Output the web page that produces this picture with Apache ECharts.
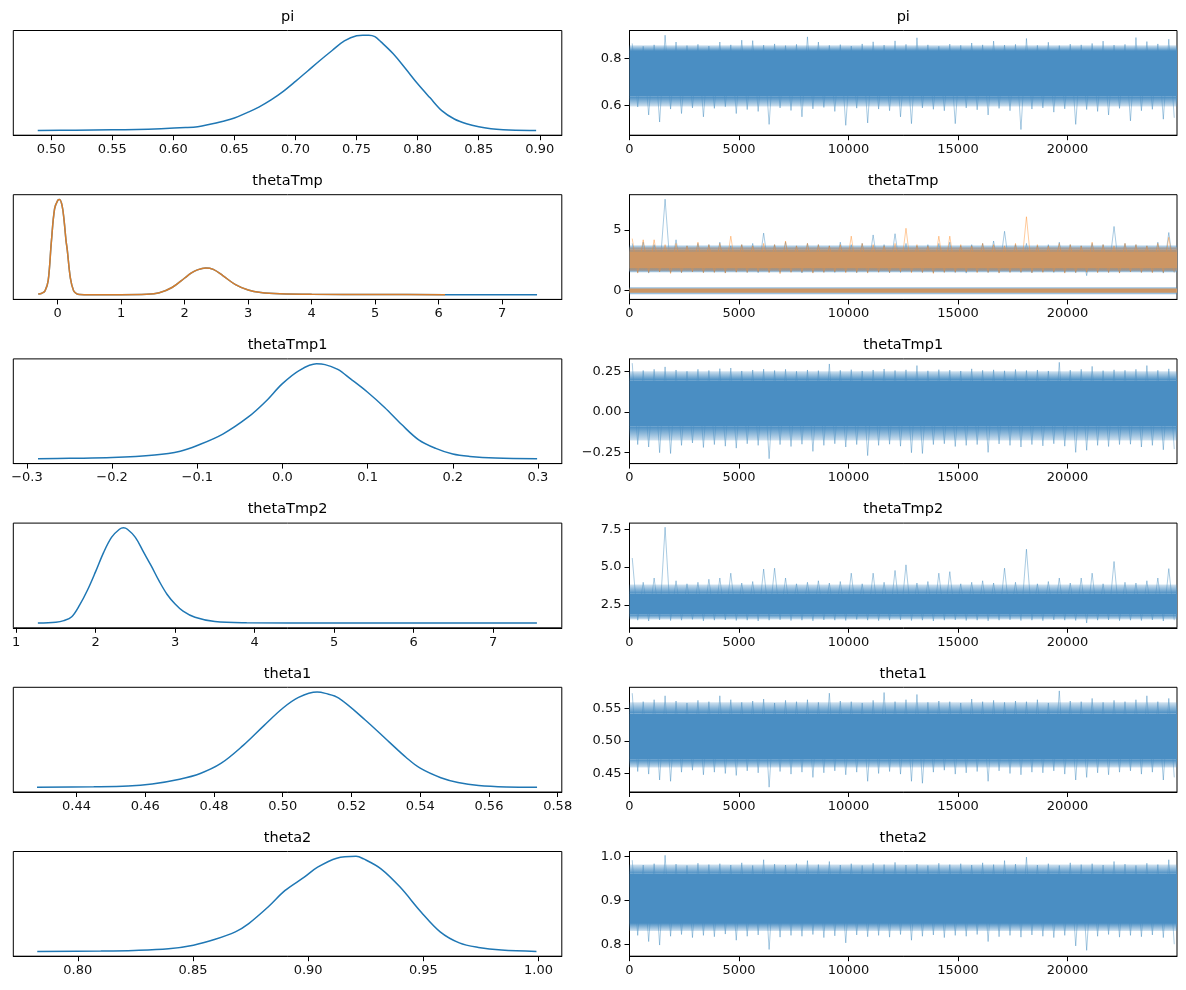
<!DOCTYPE html>
<html>
<head>
<meta charset="utf-8">
<title>trace plot</title>
<script src="https://cdn.jsdelivr.net/npm/echarts@6/dist/echarts.min.js"></script>
<style>
html, body { margin: 0; padding: 0; background: #fff; }
#main { width: 1186px; height: 990px; }
</style>
</head>
<body>
<div id="main"></div>
<script>
// ---------------- data ----------------
var nDraws = 25000;
var varNames = ['pi', 'thetaTmp', 'thetaTmp1', 'thetaTmp2', 'theta1', 'theta2'];

// KDE curves, heights relative to each panel's peak
var piKdeX = [0.489, 0.52, 0.55, 0.57, 0.59, 0.61, 0.62, 0.63, 0.64, 0.65, 0.66, 0.67, 0.68, 0.69, 0.70, 0.71, 0.72, 0.73, 0.74, 0.75, 0.755, 0.76, 0.765, 0.77, 0.78, 0.79, 0.80, 0.81, 0.82, 0.83, 0.84, 0.85, 0.86, 0.87, 0.88, 0.897];
var piKdeY = [0, 0.003, 0.007, 0.01, 0.018, 0.03, 0.04, 0.065, 0.095, 0.13, 0.185, 0.245, 0.32, 0.41, 0.515, 0.625, 0.735, 0.84, 0.94, 0.995, 1.0, 1.0, 0.985, 0.93, 0.805, 0.65, 0.49, 0.345, 0.205, 0.12, 0.07, 0.038, 0.018, 0.007, 0.002, 0];

var thetaTmpKdeX = [-0.307, -0.25, -0.2, -0.15, -0.1, -0.05, 0, 0.03, 0.07, 0.1, 0.13, 0.15, 0.2, 0.25, 0.3, 0.35, 0.5, 1.0, 1.4, 1.6, 1.8, 2.0, 2.1, 2.2, 2.33, 2.45, 2.6, 2.8, 3.0, 3.2, 3.5, 4.0, 5.0, 6.1, 7.0, 7.55];
var thetaTmpKdeBlue = [0.007, 0.015, 0.04, 0.15, 0.56, 0.9, 0.99, 1.0, 0.93, 0.78, 0.57, 0.47, 0.17, 0.04, 0.008, 0.002, 0, 0, 0.004, 0.02, 0.075, 0.175, 0.225, 0.26, 0.28, 0.265, 0.2, 0.105, 0.048, 0.022, 0.009, 0.003, 0.001, 0, 0, 0];
var thetaTmpKdeOrange = [0.007, 0.015, 0.04, 0.15, 0.56, 0.9, 0.99, 1.0, 0.93, 0.78, 0.57, 0.47, 0.17, 0.04, 0.008, 0.002, 0, 0, 0.004, 0.02, 0.075, 0.175, 0.225, 0.26, 0.28, 0.265, 0.2, 0.105, 0.048, 0.022, 0.009, 0.003, 0.001, 0, null, null];

var thetaTmp1KdeX = [-0.287, -0.25, -0.2, -0.15, -0.12, -0.1, -0.07, -0.04, -0.02, 0, 0.02, 0.04, 0.05, 0.065, 0.08, 0.1, 0.12, 0.14, 0.16, 0.18, 0.2, 0.22, 0.25, 0.299];
var thetaTmp1KdeY = [0, 0.005, 0.013, 0.04, 0.08, 0.14, 0.26, 0.44, 0.6, 0.79, 0.93, 0.998, 0.99, 0.94, 0.84, 0.70, 0.54, 0.36, 0.2, 0.11, 0.05, 0.025, 0.008, 0];

var thetaTmp2KdeX = [1.274, 1.5, 1.6, 1.7, 1.8, 1.9, 2.0, 2.1, 2.2, 2.3, 2.35, 2.4, 2.5, 2.6, 2.7, 2.8, 2.9, 3.0, 3.1, 3.25, 3.5, 3.9, 5, 6, 7.55];
var thetaTmp2KdeY = [0, 0.008, 0.025, 0.066, 0.19, 0.35, 0.54, 0.74, 0.9, 0.985, 1.0, 0.985, 0.9, 0.75, 0.6, 0.44, 0.3, 0.2, 0.125, 0.06, 0.015, 0.003, 0, 0, 0];

var theta1KdeX = [0.4285, 0.445, 0.455, 0.462, 0.47, 0.476, 0.482, 0.4885, 0.4946, 0.5, 0.5046, 0.51, 0.5124, 0.5163, 0.524, 0.531, 0.536, 0.540, 0.546, 0.551, 0.557, 0.565, 0.574];
var theta1KdeY = [0, 0.004, 0.012, 0.035, 0.085, 0.145, 0.25, 0.44, 0.65, 0.83, 0.944, 1.0, 0.986, 0.937, 0.707, 0.474, 0.31, 0.2, 0.1, 0.05, 0.018, 0.003, 0];

var theta2KdeX = [0.7824, 0.81, 0.8244, 0.8394, 0.8502, 0.8593, 0.8684, 0.8742, 0.8826, 0.89, 0.8983, 0.9041, 0.9124, 0.9208, 0.9241, 0.9316, 0.9399, 0.949, 0.9573, 0.9656, 0.9739, 0.9839, 0.9991];
var theta2KdeY = [0, 0.004, 0.01, 0.028, 0.066, 0.125, 0.206, 0.293, 0.467, 0.641, 0.78, 0.885, 0.98, 1.0, 0.972, 0.868, 0.676, 0.415, 0.206, 0.09, 0.042, 0.014, 0];

// traces: highest / lowest draw in each block of 500 draws
var piTraceHi = [0.864, 0.852, 0.858, 0.899, 0.870, 0.855, 0.860, 0.853, 0.870, 0.858, 0.878, 0.876, 0.857, 0.862, 0.855, 0.860, 0.892, 0.870, 0.856, 0.859, 0.853, 0.862, 0.871, 0.857, 0.875, 0.860, 0.888, 0.858, 0.852, 0.861, 0.856, 0.866, 0.858, 0.874, 0.857, 0.860, 0.885, 0.856, 0.869, 0.855, 0.861, 0.858, 0.864, 0.874, 0.857, 0.860, 0.889, 0.872, 0.862, 0.882];
var piTraceLo = [0.594, 0.560, 0.530, 0.585, 0.566, 0.590, 0.552, 0.588, 0.595, 0.566, 0.583, 0.575, 0.520, 0.590, 0.579, 0.552, 0.586, 0.592, 0.575, 0.516, 0.589, 0.526, 0.585, 0.578, 0.552, 0.523, 0.590, 0.584, 0.578, 0.523, 0.590, 0.582, 0.560, 0.588, 0.578, 0.498, 0.585, 0.590, 0.572, 0.586, 0.520, 0.583, 0.575, 0.560, 0.588, 0.535, 0.578, 0.584, 0.542, 0.548];

var thetaTmpBlueHi = [3.9, 4.0, 3.8, 7.55, 4.2, 3.7, 3.9, 3.8, 4.0, 3.7, 3.8, 3.9, 4.75, 3.8, 4.0, 3.7, 3.9, 3.8, 3.7, 4.0, 3.8, 3.9, 4.6, 3.8, 4.7, 3.9, 3.7, 3.8, 3.9, 4.0, 3.7, 3.8, 3.9, 4.1, 4.9, 3.8, 3.9, 3.7, 3.8, 4.0, 3.8, 3.7, 3.9, 3.8, 5.3, 3.9, 3.8, 3.7, 4.0, 4.8];
var thetaTmpBlueLo = [1.5, 1.45, 1.55, 1.5, 1.48, 1.55, 1.5, 1.52, 1.47, 1.55, 1.5, 1.48, 1.53, 1.5, 1.55, 1.46, 1.5, 1.52, 1.5, 1.55, 1.48, 1.5, 1.53, 1.47, 1.5, 1.55, 1.5, 1.48, 1.52, 1.5, 1.45, 1.55, 1.5, 1.48, 1.52, 1.5, 1.47, 1.55, 1.5, 1.5, 1.48, 1.24, 1.52, 1.5, 1.47, 1.55, 1.5, 1.52, 1.45, 1.5];
var thetaTmpOrangeHi = [4.3, 4.2, 4.2, 3.8, 3.9, 3.7, 4.0, 3.8, 3.9, 4.5, 3.8, 3.7, 3.9, 3.8, 4.1, 3.7, 3.9, 3.8, 3.7, 3.8, 4.5, 3.9, 3.8, 3.7, 3.9, 5.15, 3.8, 3.7, 4.5, 4.5, 3.8, 3.7, 3.9, 3.8, 3.7, 3.9, 6.1, 3.8, 3.7, 3.9, 3.8, 3.7, 4.0, 3.8, 3.7, 3.9, 3.8, 3.7, 3.9, 4.4];
var thetaTmpOrangeLo = [1.45, 1.5, 1.55, 1.42, 1.5, 1.55, 1.48, 1.5, 1.45, 1.52, 1.5, 1.55, 1.48, 1.4, 1.5, 1.52, 1.45, 1.5, 1.55, 1.48, 1.5, 1.45, 1.52, 1.5, 1.55, 1.48, 1.5, 1.42, 1.5, 1.52, 1.55, 1.48, 1.5, 1.45, 1.5, 1.52, 1.48, 1.5, 1.55, 1.45, 1.5, 1.52, 1.48, 1.5, 1.45, 1.55, 1.5, 1.48, 1.5, 1.52];

var thetaTmp1TraceHi = [0.300, 0.255, 0.262, 0.277, 0.258, 0.250, 0.262, 0.255, 0.266, 0.270, 0.252, 0.258, 0.263, 0.255, 0.262, 0.250, 0.258, 0.254, 0.295, 0.256, 0.260, 0.252, 0.258, 0.264, 0.255, 0.259, 0.285, 0.253, 0.260, 0.257, 0.252, 0.265, 0.256, 0.259, 0.253, 0.261, 0.255, 0.258, 0.252, 0.305, 0.257, 0.262, 0.280, 0.254, 0.259, 0.256, 0.262, 0.285, 0.256, 0.265];
var thetaTmp1TraceLo = [-0.200, -0.215, -0.250, -0.255, -0.205, -0.190, -0.218, -0.200, -0.210, -0.222, -0.195, -0.205, -0.287, -0.200, -0.212, -0.198, -0.242, -0.205, -0.195, -0.215, -0.200, -0.268, -0.205, -0.198, -0.210, -0.250, -0.255, -0.200, -0.195, -0.212, -0.205, -0.200, -0.248, -0.196, -0.205, -0.215, -0.200, -0.208, -0.195, -0.210, -0.248, -0.235, -0.205, -0.212, -0.200, -0.198, -0.215, -0.205, -0.232, -0.228];

var thetaTmp2TraceHi = [5.6, 4.0, 4.28, 7.63, 4.1, 3.9, 4.0, 4.2, 4.28, 4.6, 3.95, 4.05, 4.87, 4.93, 4.28, 3.9, 4.0, 4.1, 3.95, 4.05, 4.6, 3.9, 4.6, 4.0, 4.78, 5.15, 3.95, 4.05, 4.6, 4.7, 3.9, 4.0, 4.1, 3.95, 4.93, 4.0, 6.18, 3.9, 4.05, 4.28, 3.95, 4.28, 4.6, 3.9, 5.37, 4.0, 3.95, 4.1, 4.28, 4.9];
var thetaTmp2TraceLo = [1.5, 1.45, 1.52, 1.48, 1.5, 1.55, 1.46, 1.5, 1.52, 1.48, 1.5, 1.45, 1.5, 1.53, 1.48, 1.5, 1.46, 1.52, 1.5, 1.48, 1.55, 1.5, 1.47, 1.5, 1.52, 1.48, 1.5, 1.45, 1.5, 1.52, 1.48, 1.5, 1.46, 1.5, 1.53, 1.48, 1.5, 1.47, 1.52, 1.5, 1.48, 1.32, 1.5, 1.52, 1.47, 1.5, 1.48, 1.52, 1.45, 1.5];

var theta1TraceHi = [0.573, 0.560, 0.563, 0.569, 0.561, 0.558, 0.562, 0.560, 0.569, 0.563, 0.559, 0.561, 0.564, 0.558, 0.562, 0.560, 0.563, 0.559, 0.573, 0.561, 0.560, 0.558, 0.562, 0.574, 0.560, 0.563, 0.571, 0.559, 0.561, 0.560, 0.558, 0.564, 0.560, 0.562, 0.559, 0.561, 0.560, 0.563, 0.558, 0.5765, 0.561, 0.560, 0.565, 0.559, 0.562, 0.560, 0.563, 0.569, 0.560, 0.565];
var theta1TraceLo = [0.453, 0.449, 0.440, 0.438, 0.452, 0.455, 0.448, 0.452, 0.450, 0.447, 0.454, 0.451, 0.429, 0.453, 0.449, 0.452, 0.444, 0.451, 0.454, 0.448, 0.452, 0.438, 0.450, 0.453, 0.449, 0.438, 0.435, 0.452, 0.455, 0.449, 0.451, 0.453, 0.438, 0.454, 0.450, 0.448, 0.452, 0.451, 0.454, 0.449, 0.440, 0.444, 0.451, 0.448, 0.452, 0.454, 0.449, 0.452, 0.440, 0.444];

var theta2TraceHi = [0.991, 0.980, 0.983, 1.002, 0.982, 0.979, 0.984, 0.981, 0.983, 0.980, 0.985, 0.979, 0.992, 0.982, 0.980, 0.983, 0.990, 0.981, 0.988, 0.980, 0.983, 0.979, 0.984, 0.981, 0.986, 0.980, 0.982, 0.979, 0.984, 0.981, 0.983, 0.980, 0.985, 0.981, 0.990, 0.982, 0.998, 0.980, 0.983, 0.979, 0.985, 0.981, 0.983, 0.980, 0.988, 0.982, 0.979, 0.984, 0.981, 0.992];
var theta2TraceLo = [0.820, 0.806, 0.798, 0.818, 0.822, 0.815, 0.820, 0.817, 0.823, 0.809, 0.818, 0.821, 0.788, 0.816, 0.820, 0.818, 0.822, 0.815, 0.819, 0.803, 0.821, 0.817, 0.820, 0.816, 0.822, 0.809, 0.818, 0.821, 0.815, 0.820, 0.818, 0.822, 0.806, 0.817, 0.820, 0.816, 0.821, 0.818, 0.815, 0.820, 0.796, 0.786, 0.818, 0.822, 0.816, 0.820, 0.817, 0.821, 0.815, 0.800];

// where most of the draws sit: [low, high] of the dense core and of its lighter fringe
var piCore = [0.637, 0.832], piFringe = [0.596, 0.856];
var thetaTmpUpperCore = [1.85, 3.25], thetaTmpUpperFringe = [1.6, 3.6], thetaTmpUpperBlueFringe = [1.5, 3.75];
var thetaTmpLowerCore = [-0.18, 0.18], thetaTmpLowerFringe = [-0.3, 0.28];
var thetaTmp1Core = [-0.09, 0.195], thetaTmp1Fringe = [-0.175, 0.25];
var thetaTmp2Core = [1.86, 3.25], thetaTmp2Fringe = [1.55, 3.85];
var theta1Core = [0.471, 0.542], theta1Fringe = [0.459, 0.559];
var theta2Core = [0.848, 0.960], theta2Fringe = [0.830, 0.981];

// axis limits and ticks
var kdeLimits = [[0.469, 0.918], [-0.70, 7.94], [-0.316, 0.328], [0.965, 7.863], [0.4216, 0.5812], [0.772, 1.0101]];
var traceLimits = [[0.474, 0.919], [-0.72, 7.92], [-0.317, 0.326], [1.0, 7.9], [0.4216, 0.582], [0.7727, 1.0107]];
var kdeTicks = [
    [0.50, 0.55, 0.60, 0.65, 0.70, 0.75, 0.80, 0.85, 0.90],
    [0, 1, 2, 3, 4, 5, 6, 7],
    [-0.3, -0.2, -0.1, 0.0, 0.1, 0.2, 0.3],
    [1, 2, 3, 4, 5, 6, 7],
    [0.44, 0.46, 0.48, 0.50, 0.52, 0.54, 0.56, 0.58],
    [0.80, 0.85, 0.90, 0.95, 1.00]
];
var kdeDecimals = [2, 0, 1, 0, 2, 2];
var traceXTicks = [0, 5000, 10000, 15000, 20000];
var traceYTicks = [[0.6, 0.8], [0, 5], [-0.25, 0, 0.25], [2.5, 5.0, 7.5], [0.45, 0.50, 0.55], [0.8, 0.9, 1.0]];
var traceDecimals = [1, 0, 2, 1, 2, 1];

// ---------------- layout / style ----------------
var C0 = '#1f77b4', C1 = 'rgba(255,127,14,0.82)';
var blueCore = '#4a8ec3', blueSpike = 'rgba(31,119,180,0.38)';
var blueFade = ['rgba(74,142,195,1)', 'rgba(74,142,195,0.25)'];
var orangeCore = '#cc9664', orangeSpike = 'rgba(255,127,14,0.4)';
var orangeFade = ['rgba(226,150,85,0.75)', 'rgba(255,160,90,0.2)'];
var leftX = 13.3, leftW = 548.5, rightX = 629.5, rightW = 547.5;
var rowTop0 = 30.5, rowStep = 164.2, rowH = 104.7;
var FONT = 'DejaVu Sans';

function fmt(d) {
    return function (v) { return Number(v).toFixed(d).replace('-', '\u2212'); };
}

function pairs(xs, ys) {
    var out = [];
    for (var i = 0; i < xs.length; i++) {
        if (ys[i] != null) out.push([xs[i], ys[i]]);
    }
    return out;
}

// one up-and-down stroke per block of draws
function zigzag(hi, lo) {
    var w = nDraws / hi.length;
    var out = [];
    for (var i = 0; i < hi.length; i++) {
        out.push([i * w + w * 0.25, hi[i]]);
        out.push([i * w + w * 0.75, lo[i]]);
    }
    return out;
}

// horizontal band across the whole plot; fade: 0 solid, 1 fades upward, -1 fades downward
function bandRenderer(fill, fade) {
    return function (params, api) {
        var cs = params.coordSys;
        var yTop = api.coord([0, api.value(1)])[1];
        var yBot = api.coord([0, api.value(0)])[1];
        var style = fill;
        if (fade) {
            var inner = fill[0], outer = fill[1];
            style = new echarts.graphic.LinearGradient(0, 0, 0, 1, [
                { offset: 0, color: fade > 0 ? outer : inner },
                { offset: 1, color: fade > 0 ? inner : outer }
            ]);
        }
        return {
            type: 'rect',
            shape: { x: cs.x, y: yTop, width: cs.width, height: yBot - yTop },
            style: { fill: style }
        };
    };
}

var grids = [], xAxes = [], yAxes = [], titles = [], series = [];

function addTitle(text, cx, gridTop) {
    titles.push({
        text: text, left: cx, top: gridTop - 21, textAlign: 'center', padding: 0,
        textStyle: { fontSize: 14.5, fontWeight: 'normal', color: '#000', fontFamily: FONT }
    });
}

function tickAxis(gi, lim, ticks, dec) {
    return {
        gridIndex: gi, type: 'value', min: lim[0], max: lim[1],
        splitLine: { show: false },
        axisLine: { show: true, onZero: false, lineStyle: { color: '#000', width: 1 } },
        axisTick: { show: true, length: 5, lineStyle: { color: '#000', width: 1 }, customValues: ticks },
        axisLabel: { customValues: ticks, formatter: fmt(dec), color: '#111', fontSize: 13, fontFamily: FONT, margin: 8 }
    };
}

function kdeLine(gi, xs, ys, color, z) {
    return {
        type: 'line', xAxisIndex: gi, yAxisIndex: gi, data: pairs(xs, ys),
        showSymbol: false, symbol: 'none', smooth: 0.35,
        lineStyle: { color: color, width: 1.5 }, itemStyle: { color: color },
        z: z || 2, silent: true, animation: false
    };
}

function spikeLine(gi, hi, lo, color, z) {
    return {
        type: 'line', xAxisIndex: gi, yAxisIndex: gi, data: zigzag(hi, lo),
        showSymbol: false, symbol: 'none',
        lineStyle: { color: color, width: 1 }, z: z, silent: true, animation: false
    };
}

function bands(gi, ranges, fill, fade, z) {
    return {
        type: 'custom', xAxisIndex: gi, yAxisIndex: gi, renderItem: bandRenderer(fill, fade),
        data: ranges.map(function (b) { return [b[0], b[1]]; }),
        z: z, silent: true, animation: false
    };
}

// core plus fading fringes above and below it
function bandSet(gi, core, fringe, coreFill, fadeFill, z) {
    return [
        bands(gi, [[core[1], fringe[1]]], fadeFill, 1, z),
        bands(gi, [[fringe[0], core[0]]], fadeFill, -1, z),
        bands(gi, [core], coreFill, 0, z)
    ];
}

var kdeSets = [
    [[piKdeX, piKdeY, C0]],
    [[thetaTmpKdeX, thetaTmpKdeBlue, C0], [thetaTmpKdeX, thetaTmpKdeOrange, C1]],
    [[thetaTmp1KdeX, thetaTmp1KdeY, C0]],
    [[thetaTmp2KdeX, thetaTmp2KdeY, C0]],
    [[theta1KdeX, theta1KdeY, C0]],
    [[theta2KdeX, theta2KdeY, C0]]
];

var singleTraces = {
    0: [piTraceHi, piTraceLo, piCore, piFringe],
    2: [thetaTmp1TraceHi, thetaTmp1TraceLo, thetaTmp1Core, thetaTmp1Fringe],
    3: [thetaTmp2TraceHi, thetaTmp2TraceLo, thetaTmp2Core, thetaTmp2Fringe],
    4: [theta1TraceHi, theta1TraceLo, theta1Core, theta1Fringe],
    5: [theta2TraceHi, theta2TraceLo, theta2Core, theta2Fringe]
};

for (var r = 0; r < varNames.length; r++) {
    var rowTop = rowTop0 + rowStep * r;
    var gL = 2 * r, gR = 2 * r + 1;

    // left: density
    grids.push({ left: leftX, top: rowTop, width: leftW, height: rowH, show: true, borderColor: '#000', borderWidth: 1, backgroundColor: 'transparent' });
    xAxes.push(tickAxis(gL, kdeLimits[r], kdeTicks[r], kdeDecimals[r]));
    yAxes.push({ gridIndex: gL, type: 'value', show: false, min: -0.05, max: 1.05, splitLine: { show: false } });
    addTitle(varNames[r], leftX + leftW / 2, rowTop);
    kdeSets[r].forEach(function (s, k) { series.push(kdeLine(gL, s[0], s[1], s[2], 2 + k)); });

    // right: trace
    grids.push({ left: rightX, top: rowTop, width: rightW, height: rowH, show: true, borderColor: '#000', borderWidth: 1, backgroundColor: 'transparent' });
    xAxes.push(tickAxis(gR, [0, nDraws], traceXTicks, 0));
    yAxes.push(tickAxis(gR, traceLimits[r], traceYTicks[r], traceDecimals[r]));
    addTitle(varNames[r], rightX + rightW / 2, rowTop);

    if (singleTraces[r]) {
        var tr = singleTraces[r];
        series.push(spikeLine(gR, tr[0], tr[1], blueSpike, 1));
        series = series.concat(bandSet(gR, tr[2], tr[3], blueCore, blueFade, 2));
    } else {
        // thetaTmp: two coloured sets, each with a component near 0 and one near 2.3
        series.push(spikeLine(gR, thetaTmpBlueHi, thetaTmpBlueLo, blueSpike, 1));
        series = series.concat(bandSet(gR, [1.7, 3.4], thetaTmpUpperBlueFringe, blueCore, blueFade, 2));
        series.push(bands(gR, [thetaTmpLowerFringe], 'rgba(74,142,195,0.55)', 0, 2));
        series.push(spikeLine(gR, thetaTmpOrangeHi, thetaTmpOrangeLo, orangeSpike, 3));
        series = series.concat(bandSet(gR, thetaTmpUpperCore, thetaTmpUpperFringe, orangeCore, orangeFade, 4));
        series.push(bands(gR, [thetaTmpLowerCore], orangeCore, 0, 5));
    }
}

var chart = echarts.init(document.getElementById('main'), null, { renderer: 'canvas' });
chart.setOption({
    backgroundColor: '#fff',
    animation: false,
    title: titles,
    grid: grids,
    xAxis: xAxes,
    yAxis: yAxes,
    series: series
});
window.addEventListener('resize', function () { chart.resize(); });
</script>
</body>
</html>
